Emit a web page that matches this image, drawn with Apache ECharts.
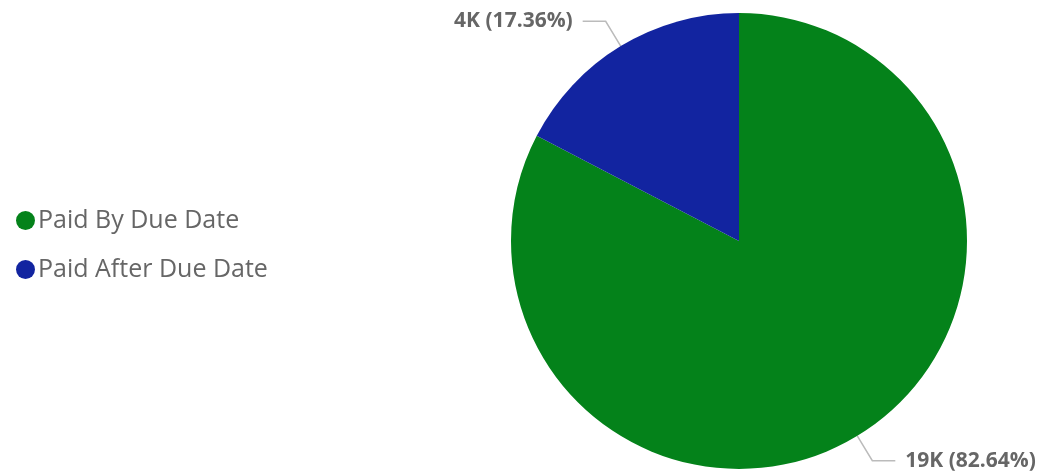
<!DOCTYPE html>
<html><head><meta charset="utf-8">
<script src="https://cdn.jsdelivr.net/npm/echarts@6/dist/echarts.min.js"></script>
<style>html,body{margin:0;padding:0;background:#fff}#c{width:1040px;height:472px}</style>
</head><body><div id="c"></div>
<script>
const categories = ["Paid By Due Date", "Paid After Due Date"];
const values = [19040, 4000];
const colors = ["#04821A", "#1224A0"];

const chart = echarts.init(document.getElementById('c'));
chart.setOption({
  animation: false,
  color: colors,
  legend: {
    orient: 'vertical',
    left: 11,
    top: 203,
    icon: 'circle',
    itemWidth: 19,
    itemHeight: 19,
    itemGap: 24,
    textStyle: { fontFamily: 'Open Sans', fontSize: 25, color: '#666', padding: [0, 0, 0, -2] },
    data: categories
  },
  series: [{
    type: 'pie',
    center: [739, 241],
    radius: 228,
    startAngle: 90,
    clockwise: true,
    data: categories.map((n, i) => ({ name: n, value: values[i] })),
    label: {
      show: true,
      position: 'outside',
      overflow: 'none',
      edgeDistance: 0,
      distanceToLabelLine: 10,
      fontFamily: 'Open Sans',
      fontSize: 21,
      fontWeight: 'bold',
      color: '#666',
      formatter: p => Math.round(p.value / 1000) + 'K (' + p.percent.toFixed(2) + '%)'
    },
    percentPrecision: 2,
    labelLine: { show: true, length: 29, length2: 23, lineStyle: { color: '#bbb', width: 1.5 } },
    itemStyle: { borderWidth: 0 },
    emphasis: { disabled: true }
  }]
});
</script></body></html>
